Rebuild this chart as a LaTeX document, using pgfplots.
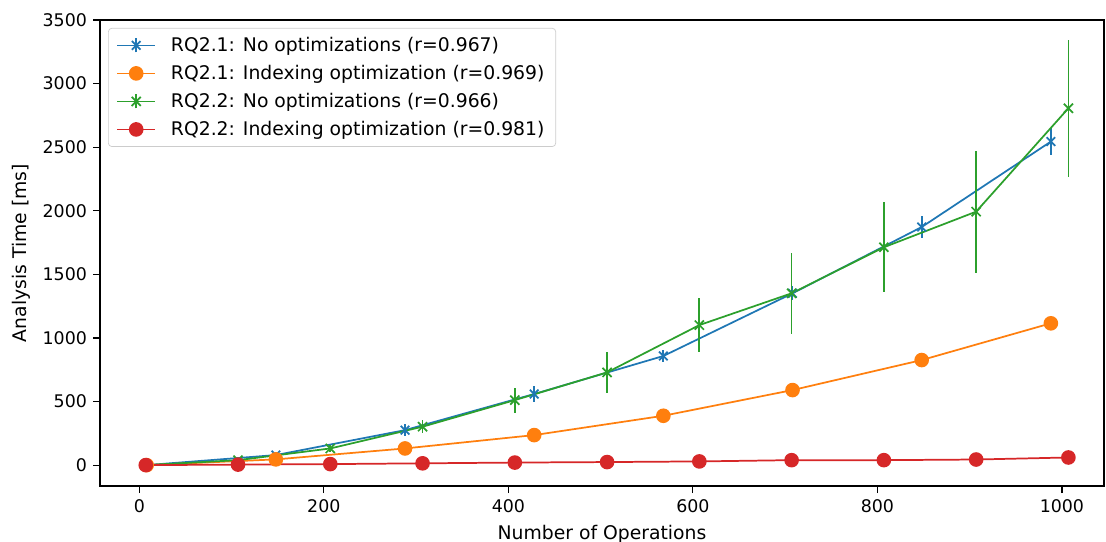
\documentclass[border=0pt]{standalone}
\usepackage{pgfplots}
\usepackage{pgfplotstable}
\pgfplotsset{compat=1.18}
\usepackage{fontspec}
\setmainfont{DejaVu Sans}

\definecolor{tabblue}{HTML}{1F77B4}
\definecolor{taborange}{HTML}{FF7F0E}
\definecolor{tabgreen}{HTML}{2CA02C}
\definecolor{tabred}{HTML}{D62728}

% RQ2.1, no optimizations
\pgfplotstableread{
x    y     e
8    0     3
148  79    20
288  275   50
428  559   65
568  858   45
708  1351  55
848  1872  89
988  2544  105
}\rqAnone
% RQ2.1, indexing optimization
\pgfplotstableread{
x    y     e
8    0     1
148  45    2
288  131   4
428  236   6
568  388   8
708  590   10
848  826   12
988  1115  15
}\rqAidx
% RQ2.2, no optimizations
\pgfplotstableread{
x     y     e
7     0     5
107   39    20
207   131   30
307   302   52
407   511   98
507   729   161
607   1101  214
707   1351  318
807   1713  354
907   1993  480
1007  2806  537
}\rqBnone
% RQ2.2, indexing optimization
\pgfplotstableread{
x     y    e
7     0    1
107   4    1
207   8    1
307   14   1
407   20   1
507   24   2
607   29   2
707   39   2
807   39   2
907   44   2
1007  60   3
}\rqBidx

\pgfplotsset{
  errleg/.style={
    legend image code/.code={
      \draw[fill opacity=1, draw opacity=1, mark repeat=2, mark phase=2]
        plot coordinates {(0pt,0pt) (11pt,0pt) (22pt,0pt)};
      \draw[mark=none, draw opacity=1] (11pt,-4pt) -- (11pt,4pt);
    }
  },
  series/.style={
    line width=1pt,
    error bars/y dir=both,
    error bars/y explicit,
    error bars/error mark=none,
    error bars/error bar style={line width=1pt, solid},
    errleg
  }
}

\begin{document}
\begin{tikzpicture}
\begin{axis}[
  at={(0,0)}, anchor=south west,
  scale only axis,
  width=577.3pt, height=268pt,
  xmin=-42.6, xmax=1045.6,
  ymin=-165, ymax=3500,
  xtick={0,200,...,1000},
  ytick={0,500,...,3500},
  tick align=outside,
  major tick length=4pt,
  tick style={black, line width=0.7pt},
  axis line style={line width=0.7pt, black},
  xtick pos=bottom, ytick pos=left,
  /pgf/number format/assume math mode=true,
  /pgf/number format/1000 sep={},
  tick label style={font=\fontsize{10}{12}\selectfont},
  label style={font=\fontsize{10.8}{13}\selectfont},
  xlabel={Number of Operations},
  ylabel={Analysis Time [ms]},
  xlabel style={yshift=-0.5pt},
  ylabel style={yshift=0.3pt},
  legend cell align=left,
  legend style={
    at={(0.008,0.983)}, anchor=north west,
    font=\fontsize{10.8}{13}\selectfont,
    draw=black!20, rounded corners=2pt,
    fill=white, fill opacity=0.8, text opacity=1, draw opacity=1,
    row sep=2.4pt, inner xsep=4.5pt, inner ysep=3pt,
    /tikz/every odd column/.append style={column sep=6.5pt},
  },
]
\addplot+[series, color=tabblue, mark=x, mark size=3.5pt, mark options={solid, line width=1pt}]
  table[x=x, y=y, y error=e] {\rqAnone};
\addlegendentry{RQ2.1: No optimizations (r=0.967)}
\addplot+[series, color=taborange, mark=*, mark size=3.7pt, mark options={solid, fill=taborange, draw=taborange}]
  table[x=x, y=y, y error=e] {\rqAidx};
\addlegendentry{RQ2.1: Indexing optimization (r=0.969)}
\addplot+[series, color=tabgreen, mark=x, mark size=3.7pt, mark options={solid, line width=1pt}]
  table[x=x, y=y, y error=e] {\rqBnone};
\addlegendentry{RQ2.2: No optimizations (r=0.966)}
\addplot+[series, color=tabred, mark=*, mark size=3.7pt, mark options={solid, fill=tabred, draw=tabred}]
  table[x=x, y=y, y error=e] {\rqBidx};
\addlegendentry{RQ2.2: Indexing optimization (r=0.981)}
\end{axis}
\pgfresetboundingbox
\path[use as bounding box] (-57.5pt,-31.6pt) rectangle (578.45pt,279.5pt);
\end{tikzpicture}
\end{document}
